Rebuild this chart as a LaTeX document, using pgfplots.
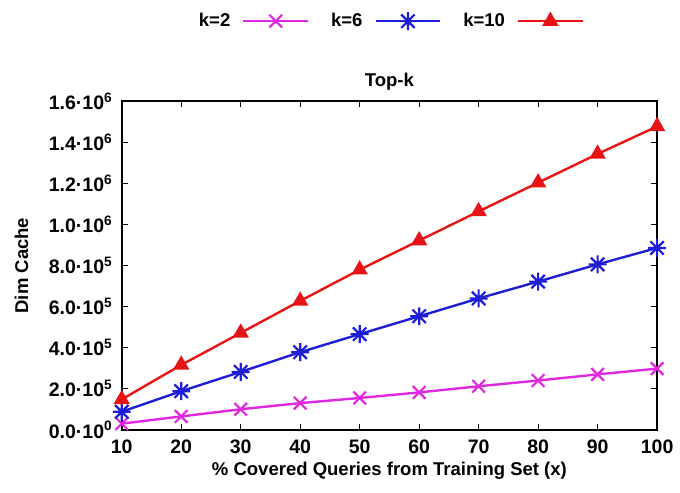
\documentclass[border=0pt]{standalone}
\usepackage{fontspec}
\setmainfont{Liberation Sans}
\usepackage{pgfplots}
\pgfplotsset{compat=1.18}
\definecolor{cMag}{RGB}{225,40,225}
\definecolor{cBlue}{RGB}{30,30,215}
\definecolor{cRed}{RGB}{230,20,20}
\pgfdeclareplotmark{plusx}{%
  \pgfpathmoveto{\pgfqpoint{-\pgfplotmarksize}{0pt}}\pgfpathlineto{\pgfqpoint{\pgfplotmarksize}{0pt}}%
  \pgfpathmoveto{\pgfqpoint{0pt}{-\pgfplotmarksize}}\pgfpathlineto{\pgfqpoint{0pt}{\pgfplotmarksize}}%
  \pgfpathmoveto{\pgfqpoint{-0.75\pgfplotmarksize}{-0.75\pgfplotmarksize}}\pgfpathlineto{\pgfqpoint{0.75\pgfplotmarksize}{0.75\pgfplotmarksize}}%
  \pgfpathmoveto{\pgfqpoint{-0.75\pgfplotmarksize}{0.75\pgfplotmarksize}}\pgfpathlineto{\pgfqpoint{0.75\pgfplotmarksize}{-0.75\pgfplotmarksize}}%
  \pgfusepathqstroke}
\begin{document}
\begin{tikzpicture}
\begin{axis}[
  scale only axis,
  width=269pt, height=165pt,
  xmin=10, xmax=100, ymin=0, ymax=1.6e6,
  xtick={10,20,...,100},
  ytick={0,200000,400000,600000,800000,1000000,1200000,1400000,1600000},
  yticklabels={0.0·10\textsuperscript{0},2.0·10\textsuperscript{5},4.0·10\textsuperscript{5},6.0·10\textsuperscript{5},8.0·10\textsuperscript{5},1.0·10\textsuperscript{6},1.2·10\textsuperscript{6},1.4·10\textsuperscript{6},1.6·10\textsuperscript{6}},
  scaled y ticks=false,
  /pgf/number format/assume math mode=true,
  tick label style={font=\fontsize{9.8}{11}\selectfont\bfseries},
  xticklabel shift=1.5pt,
  yticklabel style={xshift=-1pt},
  label style={font=\fontsize{9.3}{11}\selectfont\bfseries},
  title style={font=\fontsize{9.3}{11}\selectfont\bfseries, yshift=-4pt},
  title={Top-k},
  xlabel={\% Covered Queries from Training Set (x)},
  ylabel={Dim Cache},
  ylabel style={yshift=3.5pt},
  xlabel style={yshift=2.5pt},
  tick align=inside,
  major tick length=3pt,
  minor tick num=0,
  axis line style={line width=0.9pt},
  every tick/.style={black, line width=0.6pt},
  legend columns=3,
  legend plot pos=right,
  legend style={at={(0.5,1)}, anchor=south, yshift=32pt, draw=none, fill=none,
    font=\fontsize{9.3}{11}\selectfont\bfseries,
    /tikz/every odd column/.append style={column sep=4pt},
    /tikz/every even column/.append style={column sep=9pt}},
  legend image code/.code={\draw[mark repeat=2,mark phase=2] plot coordinates {(0cm,0cm)(0.57cm,0cm)(1.14cm,0cm)};},
  every axis plot/.append style={line width=1.2pt},
]
\addplot[color=cMag, mark=x, mark size=4.5pt, mark options={line width=1.1pt}] coordinates {
(10,30000) (20,65000) (30,100000) (40,130000) (50,155000) (60,182000) (70,212000) (80,240000) (90,270000) (100,298000)};
\addlegendentry{k=2}
\addplot[color=cBlue, mark=plusx, mark size=4.5pt, mark options={line width=1.1pt}] coordinates {
(10,88000) (20,188000) (30,282000) (40,378000) (50,466000) (60,553000) (70,640000) (80,722000) (90,806000) (100,886000)};
\addlegendentry{k=6}
\addplot[color=cRed, mark=triangle*, mark size=3.6pt] coordinates {
(10,148000) (20,316000) (30,472000) (40,628000) (50,780000) (60,922000) (70,1064000) (80,1204000) (90,1344000) (100,1478000)};
\addlegendentry{k=10}
\end{axis}
\path ([xshift=-4pt]current axis.outer west);
\path ([yshift=-3pt]current axis.outer south);
\path ([yshift=2.5pt]current axis.outer north);
\end{tikzpicture}
\end{document}
